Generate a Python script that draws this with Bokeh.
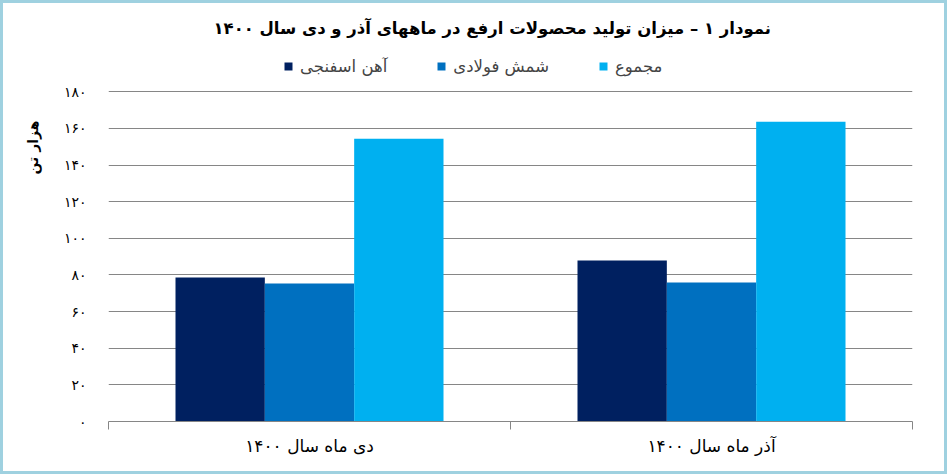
from bokeh.plotting import figure
from bokeh.models import ColumnDataSource, FixedTicker, Legend, LegendItem, Range1d, Title
from bokeh.transform import dodge
from bokeh.embed import file_html
from bokeh.resources import INLINE

# ---------------- data ----------------
title_text = "نمودار ۱ – میزان تولید محصولات ارفع در ماههای آذر و دی سال ۱۴۰۰"
y_label = "هزار تن"
categories = ["دی ماه سال ۱۴۰۰", "آذر ماه سال ۱۴۰۰"]
series_names = ["آهن اسفنجی", "شمش فولادی", "مجموع"]
sponge_iron = [78.6, 87.9]
steel_ingot = [75.4, 75.9]
total = [154.4, 163.7]
y_ticks = [0, 20, 40, 60, 80, 100, 120, 140, 160, 180]
y_tick_labels = ["۰", "۲۰", "۴۰", "۶۰", "۸۰", "۱۰۰", "۱۲۰", "۱۴۰", "۱۶۰", "۱۸۰"]
colors = ["#002060", "#0070C0", "#00B0F0"]

FONT = "DejaVu Sans"
GRID = "#868686"
FRAME_COLOR = "#9fd1e0"
Y_VIEW_TOP = 208  # range head-room so the legend sits inside the (unclipped) frame area

xpos = [i + 0.5 for i in range(len(categories))]
source = ColumnDataSource(dict(x=xpos, s0=sponge_iron, s1=steel_ingot, s2=total))

p = figure(width=931, height=458, x_range=Range1d(0, len(categories)),
           y_range=Range1d(y_ticks[0], Y_VIEW_TOP), title=None,
           output_backend="svg", toolbar_location=None,
           min_border_left=108, min_border_right=19,
           min_border_top=40, min_border_bottom=37)
p.outline_line_color = None
p.background_fill_color = "white"
p.border_fill_color = None
p.styles = {"box-shadow": f"inset 3px 3px 0 0 {FRAME_COLOR}, 8px 8px 0 5px white, 8px 8px 0 8px {FRAME_COLOR}"}

bw = 1.0 / 1.5 / 3
renderers = []
for k, col in enumerate(["s0", "s1", "s2"]):
    r = p.vbar(x=dodge("x", (k - 1) * bw, range=p.x_range), top=col, width=bw,
               source=source, fill_color=colors[k], line_color=None)
    renderers.append(r)

# x axis
p.xaxis.ticker = FixedTicker(ticks=xpos, minor_ticks=list(range(len(categories) + 1)))
p.xaxis.major_label_overrides = {xpos[i]: categories[i] for i in range(len(categories))}
p.xaxis.axis_line_color = GRID
p.xaxis.major_tick_line_color = None
p.xaxis.major_tick_out = 0
p.xaxis.major_tick_in = 0
p.xaxis.minor_tick_line_color = GRID
p.xaxis.minor_tick_out = 8
p.xaxis.minor_tick_in = 0
p.xaxis.major_label_standoff = 6
p.xaxis.major_label_text_font = FONT
p.xaxis.major_label_text_font_size = "17px"
p.xaxis.major_label_text_color = "black"

# y axis
p.yaxis.ticker = FixedTicker(ticks=y_ticks)
p.yaxis.major_label_overrides = {y_ticks[i]: y_tick_labels[i] for i in range(len(y_ticks))}
p.yaxis.axis_line_color = None
p.yaxis.major_tick_line_color = None
p.yaxis.minor_tick_line_color = None
p.yaxis.major_tick_out = 0
p.yaxis.major_tick_in = 0
p.yaxis.major_label_standoff = 22
p.yaxis.major_label_text_font = FONT
p.yaxis.major_label_text_font_size = "14px"
p.yaxis.major_label_text_color = "black"

p.xgrid.grid_line_color = None
p.ygrid.ticker = FixedTicker(ticks=y_ticks)
p.ygrid.grid_line_color = GRID

legend = Legend(items=[LegendItem(label=series_names[k], renderers=[renderers[k]]) for k in range(3)],
                orientation="horizontal", location=(175, 345),
                glyph_width=10, glyph_height=10, label_standoff=7, spacing=49,
                padding=0, margin=0, border_line_color=None, background_fill_alpha=0,
                label_text_font=FONT, label_text_font_size="16.5px", label_height=20)
p.add_layout(legend, "center")

p.add_layout(Title(text=title_text, align="left", offset=105, standoff=5,
                   text_font=FONT, text_font_style="bold", text_font_size="16.5px",
                   text_color="black"), "above")

p.add_layout(Title(text=y_label, align="right", offset=80, standoff=40,
                   text_font=FONT, text_font_style="bold", text_font_size="14px",
                   text_color="black"), "left")

open("out.html", "w").write(file_html(p, INLINE))
